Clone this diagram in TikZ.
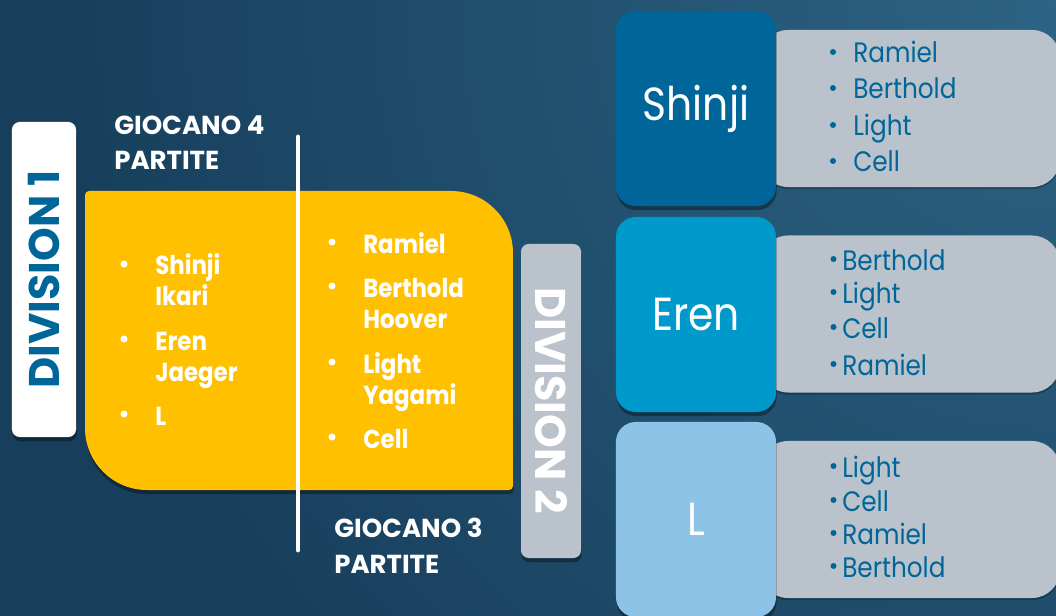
\documentclass[tikz,border=0pt]{standalone}
\usepackage{fontspec}
\setmainfont{Poppins}[FakeStretch=0.88]
\newfontfamily\capsfont{Poppins}[FakeStretch=1.0]
\usetikzlibrary{shadows}

\definecolor{bgdark}{HTML}{173F5C}
\definecolor{bglight}{HTML}{2D6384}
\definecolor{gold}{HTML}{FFC000}
\definecolor{slate}{HTML}{BAC2CB}
\definecolor{navy}{HTML}{006699}
\definecolor{azure}{HTML}{0099CC}
\definecolor{sky}{HTML}{8CC3E7}

\tikzset{
  boxshadow/.style={drop shadow={shadow xshift=0.5pt,shadow yshift=-3pt,opacity=0.35,fill=black}},
  divbox/.style={rounded corners=5.5pt,inner sep=0pt,boxshadow},
  divlabel/.style={font=\capsfont\bfseries\fontsize{30.5}{34}\selectfont,inner sep=0pt},
  playerbox/.style={rounded corners=14pt,minimum width=4cm,minimum height=4.875cm,
    inner sep=0pt,text=white,font=\fontsize{33}{36}\selectfont,boxshadow},
  listbox/.style={fill=slate,rounded corners=20pt,minimum width=7.5cm,
    minimum height=3.925cm,inner sep=0pt,
    drop shadow={shadow xshift=0pt,shadow yshift=-1.5pt,opacity=0.25,fill=black}},
  note/.style={text=white,font=\capsfont\bfseries\fontsize{18.5}{25.5}\selectfont,
    anchor=base west,align=left,inner sep=0pt},
  yitem/.style={text=white,font=\bfseries\fontsize{18.5}{21.8}\selectfont,
    anchor=base west,align=left,inner sep=0pt},
  gitem/.style={text=navy,font=\fontsize{20}{22}\selectfont,anchor=base west,inner sep=0pt}
}

\begin{document}
\begin{tikzpicture}[x=0.025cm,y=-0.025cm]
    \useasboundingbox (0,0) rectangle (1056,616);
    \begin{scope}
    \clip (0,0) rectangle (1056,616);
    \fill[bgdark] (0,0) rectangle (1056,616);
    \shade[inner color=bglight,outer color=bgdark] (1056,0) circle (1000);
    \end{scope}

    % gold panel
    \fill[gold,boxshadow] (89,191) -- (451,191) arc (270:360:62) -- (513,486) arc (0:90:4)
        -- (147,490) arc (90:180:62) -- (85,195) arc (180:270:4) -- cycle;
    \coordinate (top) at (298,137);
    \coordinate (bot) at (298,550);
    \draw[white,line width=3.5pt,line cap=round] (top) -- (bot);

    \node[divbox,fill=white,minimum width=1.6cm,minimum height=7.875cm] (d1box) at (44,279.5) {};
    \node[divlabel,text=navy,rotate=90] (d1) at (d1box.center) {DIVISION 1};
    \node[divbox,fill=slate,minimum width=1.5cm,minimum height=7.85cm] (d2box) at (551,401) {};
    \node[divlabel,text=white,rotate=-90] (d2) at (d2box.center) {DIVISION 2};

    % multi-line texts sit on the baseline of their last line
    \node[note] (four) at (114,170) {GIOCANO 4\\PARTITE};
    \node[note] (three) at (334,573) {GIOCANO 3\\PARTITE};

    \fill[white] (124,264) circle (3.5);
    \node[yitem] (shinji) at (155,305) {Shinji\\Ikari};
    \fill[white] (124,339) circle (3.5);
    \node[yitem] (eren) at (155,381) {Eren\\Jaeger};
    \fill[white] (124,414) circle (3.5);
    \node[yitem] (elle) at (155,425) {L};

    \fill[white] (332,242) circle (3.5);
    \node[yitem] (ramiel) at (363,253) {Ramiel};
    \fill[white] (332,286) circle (3.5);
    \node[yitem] (berthold) at (363,328) {Berthold\\Hoover};
    \fill[white] (332,362) circle (3.5);
    \node[yitem] (light) at (363,404) {Light\\Yagami};
    \fill[white] (332,437) circle (3.5);
    \node[yitem] (cell) at (363,448) {Cell};

    % right column
    \node[listbox] (sl) at (910,108.5) {};
    \node[listbox] (el) at (910,314) {};
    \node[listbox] (ll) at (910,519.5) {};
    \node[playerbox,fill=navy] (sp) at (696,108.5) {Shinji};
    \node[playerbox,fill=azure] (ep) at (696,314.5) {Eren};
    \node[playerbox,fill=sky] (lp) at (696,519.5) {L};

    \fill[navy] (833,52) circle (3);
    \node[gitem] (s1) at (853,63) {Ramiel};
    \fill[navy] (833,88) circle (3);
    \node[gitem] (s2) at (853,99) {Berthold};
    \fill[navy] (833,125) circle (3);
    \node[gitem] (s3) at (853,136) {Light};
    \fill[navy] (833,161) circle (3);
    \node[gitem] (s4) at (853,172) {Cell};

    \fill[navy] (833.5,259) circle (3);
    \node[gitem] (e1) at (842,270) {Berthold};
    \fill[navy] (833.5,292) circle (3);
    \node[gitem] (e2) at (842,303) {Light};
    \fill[navy] (833.5,327) circle (3);
    \node[gitem] (e3) at (842,338) {Cell};
    \fill[navy] (833.5,364) circle (3);
    \node[gitem] (e4) at (842,375) {Ramiel};

    \fill[navy] (833.5,466) circle (3);
    \node[gitem] (l1) at (842,477) {Light};
    \fill[navy] (833.5,500) circle (3);
    \node[gitem] (l2) at (842,511) {Cell};
    \fill[navy] (833.5,533) circle (3);
    \node[gitem] (l3) at (842,544) {Ramiel};
    \fill[navy] (833.5,566) circle (3);
    \node[gitem] (l4) at (842,577) {Berthold};
\end{tikzpicture}
\end{document}
